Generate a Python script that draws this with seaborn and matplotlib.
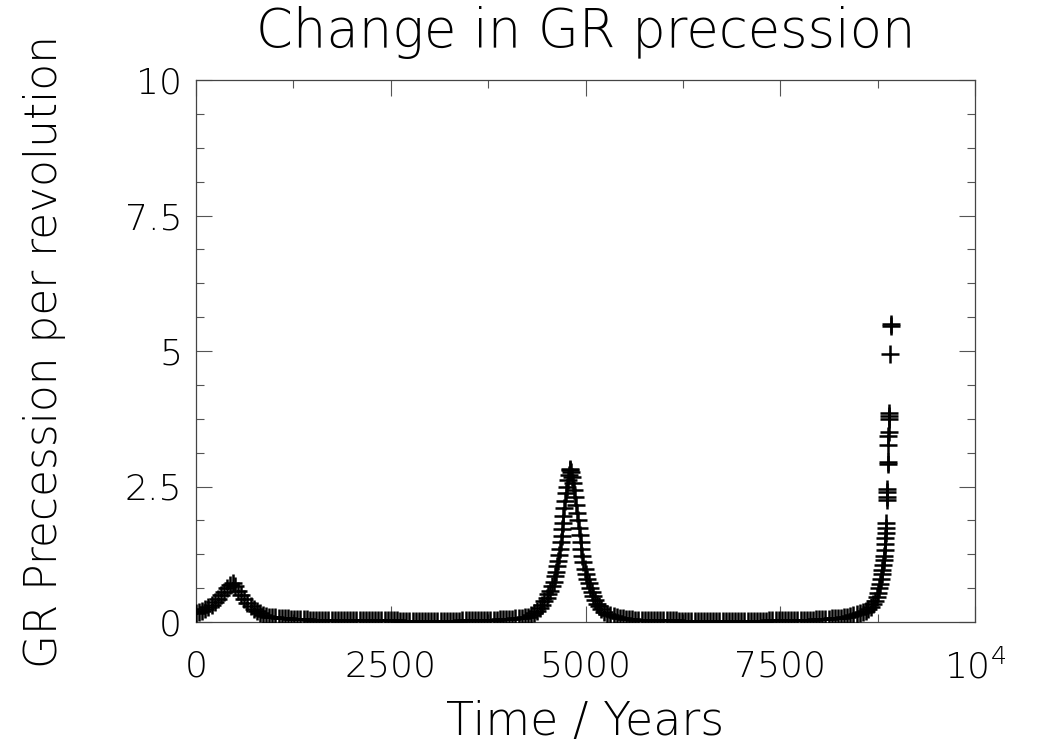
import numpy as np
import pandas as pd
import matplotlib
matplotlib.use("Agg")
import matplotlib.pyplot as plt
import seaborn as sns
from matplotlib.ticker import MultipleLocator

# ---------------- data ----------------
time_peak1 = [0, 40, 80, 120, 160, 200, 240, 280, 320, 360, 400, 440, 470, 500, 540,
              580, 620, 660, 700, 740, 780, 820, 860, 900, 940, 980]
prec_peak1 = [.17, .19, .21, .24, .28, .32, .37, .43, .49, .56, .63, .69, .72, .67, .58,
              .50, .42, .35, .29, .24, .20, .16, .13, .11, .10, .09]

time_quiet1 = [1020, 1060, 1100, 1140, 1180, 1220, 1260, 1300, 1340, 1380,
               1420, 1460, 1500, 1540, 1580, 1620, 1660, 1700, 1740, 1780,
               1820, 1860, 1900, 1940, 1980, 2020, 2060, 2100, 2140, 2180,
               2220, 2260, 2300, 2340, 2380, 2420, 2460, 2500, 2540, 2580,
               2620, 2660, 2700, 2740, 2780, 2820, 2860, 2900, 2940, 2980,
               3020, 3060, 3100, 3140, 3180, 3220, 3260, 3300, 3340, 3380,
               3420, 3460, 3500, 3540, 3580, 3620, 3660, 3700, 3740, 3780,
               3820, 3860, 3900, 3940, 3980]
prec_quiet1 = [.085, .080, .075, .070, .066, .062, .058, .055, .052, .050,
               .048, .046, .044, .042, .041, .040, .039, .038, .037, .036,
               .035, .035, .034, .034, .033, .033, .032, .032, .031, .031,
               .030, .030, .030, .029, .029, .029, .028, .028, .028, .028,
               .027, .027, .027, .027, .027, .026, .026, .026, .026, .026,
               .026, .026, .026, .026, .026, .026, .026, .027, .027, .027,
               .028, .028, .029, .030, .031, .032, .033, .035, .037, .039,
               .041, .044, .047, .050, .054]

time_peak2 = [4020, 4060, 4100, 4140, 4180, 4220, 4260, 4300, 4340, 4380,
              4410, 4440, 4470, 4500, 4525, 4550, 4570, 4590, 4610, 4625,
              4640, 4652, 4664, 4675, 4684, 4692, 4700, 4708, 4716, 4725,
              4735, 4746, 4758, 4770, 4782, 4795, 4805, 4815, 4827, 4840,
              4852, 4864, 4876, 4888, 4900, 4912, 4924, 4936, 4948, 4960,
              4974, 4990, 5006, 5022, 5040, 5060, 5080, 5100, 5120, 5145,
              5170, 5200, 5240, 5280, 5320, 5360, 5400, 5440, 5480, 5520,
              5560, 5600, 5640, 5680, 5720, 5760]
prec_peak2 = [.058, .062, .067, .073, .080, .088, .098, .130, .160, .200,
              .250, .310, .380, .450, .520, .580, .660, .740, .840, .930,
              1.03, 1.13, 1.24, 1.35, 1.47, 1.59, 1.71, 1.83, 1.96, 2.10,
              2.24, 2.38, 2.50, 2.62, 2.72, 2.80, 2.82, 2.77, 2.68, 2.56,
              2.43, 2.30, 2.16, 2.02, 1.88, 1.74, 1.60, 1.47, 1.34, 1.22,
              1.10, 0.98, 0.88, 0.80, 0.72, 0.63, 0.55, 0.48, 0.41, 0.34,
              0.29, 0.24, 0.19, 0.155, 0.13, 0.11, 0.095, 0.082, 0.072, 0.063,
              0.056, 0.050, 0.045, 0.041, 0.038, 0.035]

time_quiet2 = [5800, 5840, 5880, 5920, 5960, 6000, 6040, 6080, 6120, 6160,
               6200, 6240, 6280, 6320, 6360, 6400, 6440, 6480, 6520, 6560,
               6600, 6640, 6680, 6720, 6760, 6800, 6840, 6880, 6920, 6960,
               7000, 7040, 7080, 7120, 7160, 7200, 7240, 7280, 7320, 7360,
               7400, 7440, 7480, 7520, 7560, 7600, 7640, 7680, 7720, 7760,
               7800, 7840, 7880, 7920, 7960, 8000, 8040, 8080, 8120, 8160,
               8200]
prec_quiet2 = [.033, .032, .031, .030, .030, .029, .029, .028, .028, .028,
               .027, .027, .027, .027, .027, .026, .026, .026, .026, .026,
               .026, .026, .026, .026, .026, .026, .026, .026, .026, .026,
               .026, .026, .026, .026, .026, .027, .027, .027, .027, .028,
               .028, .029, .029, .030, .031, .032, .033, .034, .035, .037,
               .039, .041, .043, .045, .048, .051, .054, .058, .062, .066,
               .070]

time_peak3 = [8240, 8280, 8320, 8360, 8400, 8440, 8480, 8520, 8560, 8600,
              8630, 8660, 8690, 8715, 8738, 8752, 8765, 8778, 8790, 8800,
              8810, 8818, 8826, 8833, 8839, 8845, 8850, 8854, 8858, 8862,
              8866, 8869, 8872, 8876, 8880, 8882, 8885, 8888, 8890, 8893,
              8896, 8899, 8912, 8918, 8920]
prec_peak3 = [.075, .082, .090, .10, .11, .125, .14, .16, .18, .21,
              .24, .28, .33, .39, .46, .53, .62, .71, .80, .88,
              .96, 1.05, 1.14, 1.22, 1.32, 1.44, 1.55, 1.64, 1.74, 1.82,
              2.26, 2.30, 2.40, 2.45, 2.92, 2.95, 3.27, 3.44, 3.50, 3.75,
              3.80, 3.85, 4.94, 5.46, 5.50]

x_ticks = [0, 2500, 5000, 7500, 10000]
x_tick_labels = ["0", "2500", "5000", "7500", r"$\mathregular{10^4}$"]
y_ticks = [0, 2.5, 5, 7.5, 10]
y_tick_labels = ["0", "2.5", "5", "7.5", "10"]

title = "Change in GR precession"
x_label = "Time / Years"
y_label = "GR Precession per revolution"

df = pd.DataFrame({
    "time": time_peak1 + time_quiet1 + time_peak2 + time_quiet2 + time_peak3,
    "prec": prec_peak1 + prec_quiet1 + prec_peak2 + prec_quiet2 + prec_peak3,
})

# ---------------- style ----------------
sns.set_theme(style="white")
plt.rcParams["font.family"] = ["DejaVu Sans"]
plt.rcParams["font.weight"] = 200

W, H = 1050, 750
fig = plt.figure(figsize=(W / 100, H / 100), dpi=100)
L, R, T, B = 196, 975, 80, 622
ax = fig.add_axes([L / W, 1 - B / H, (R - L) / W, (B - T) / H])

sns.scatterplot(data=df, x="time", y="prec", marker="+", s=150, color="black",
                linewidth=1.8, ax=ax, legend=False, zorder=3)

ax.set_xlim(0, 10000)
ax.set_ylim(0, 10)
ax.set_xticks(x_ticks)
ax.set_xticklabels(x_tick_labels)
ax.set_yticks(y_ticks)
ax.set_yticklabels(y_tick_labels)
ax.xaxis.set_minor_locator(MultipleLocator(1250))
ax.yaxis.set_minor_locator(MultipleLocator(0.625))
ax.set_xlabel("")
ax.set_ylabel("")

ax.tick_params(which="both", direction="in", top=True, right=True,
               bottom=True, left=True, color="#555555", width=0.8)
ax.tick_params(axis="x", which="major", length=11.5, labelsize=26, pad=20)
ax.tick_params(axis="y", which="major", length=11.5, labelsize=26, pad=10)
ax.tick_params(which="minor", length=5.8)
for lab in ax.get_xticklabels() + ax.get_yticklabels():
    lab.set_color("black")
    lab.set_fontweight(200)

for sp in ax.spines.values():
    sp.set_visible(True)
    sp.set_color("#444444")
    sp.set_linewidth(0.9)

fig.text((L + R) / 2 / W, 1 - 47 / H, title, ha="center", va="baseline",
         fontsize=38, color="black", fontweight=200)
fig.text((L + R) / 2 / W, 1 - 735 / H, x_label, ha="center", va="baseline",
         fontsize=33, color="black", fontweight=200)
fig.text(45 / W, 1 - 352 / H, y_label, ha="center", va="center",
         rotation=90, fontsize=31.5, color="black", fontweight=200)

fig.savefig("out.png", dpi=100, facecolor="white")
